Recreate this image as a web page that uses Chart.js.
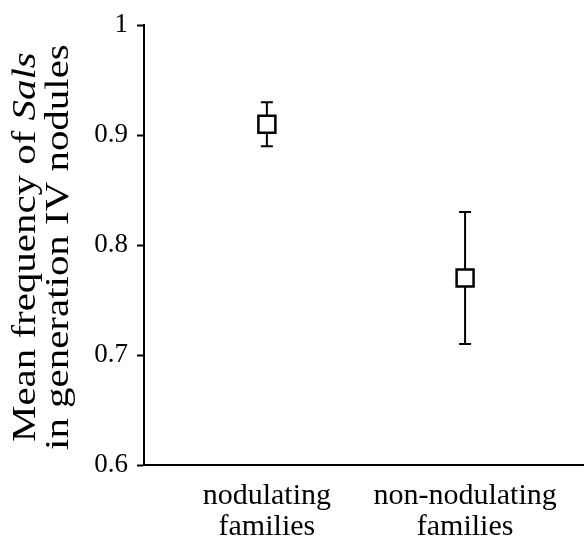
<!DOCTYPE html>
<html>
<head>
<meta charset="utf-8">
<script src="https://cdn.jsdelivr.net/npm/chart.js@4.4.1/dist/chart.umd.min.js"></script>
<style>
  html, body { margin: 0; padding: 0; background: #fff; }
  #wrap { width: 584px; height: 542px; position: relative; }
</style>
</head>
<body>
<div id="wrap"><canvas id="chart"></canvas></div>
<script>
// Data
const categories = [['nodulating', 'families'], ['non-nodulating', 'families']];
const xPositions = [1, 2];
const means = [0.91, 0.77];
const errLow = [0.89, 0.71];
const errHigh = [0.93, 0.83];
const yTicks = [0.6, 0.7, 0.8, 0.9, 1];

const SERIF = "'Liberation Serif', 'DejaVu Serif', serif";

/**
 * Error bars drawn behind the square markers
 */
const errorBars = {
  id: 'errorBars',
  beforeDatasetsDraw(chart) {
    const { ctx, scales: { x, y } } = chart;
    ctx.save();
    ctx.strokeStyle = '#000';
    ctx.lineWidth = 2;
    xPositions.forEach((xv, i) => {
      const px = x.getPixelForValue(xv);
      const top = y.getPixelForValue(errHigh[i]);
      const bot = y.getPixelForValue(errLow[i]);
      ctx.beginPath();
      ctx.moveTo(px, top);
      ctx.lineTo(px, bot);
      ctx.moveTo(px - 6, top);
      ctx.lineTo(px + 6, top);
      ctx.moveTo(px - 6, bot);
      ctx.lineTo(px + 6, bot);
      ctx.stroke();
    });
    ctx.restore();
  },
};

/**
 * Two-line rotated y title with italic "Sals"
 */
const yTitle = {
  id: 'yTitle',
  afterDraw(chart) {
    const { ctx, chartArea } = chart;
    const cy = (chartArea.top + chartArea.bottom) / 2 + 2;
    const size = 33;
    const lines = [
      { base: 35, parts: [['Mean frequency of ', false], ['Sals', true]] },
      { base: 68, parts: [['in generation IV nodules', false]] },
    ];
    ctx.save();
    ctx.fillStyle = '#000';
    ctx.textBaseline = 'alphabetic';
    ctx.textAlign = 'left';
    lines.forEach(line => {
      const widths = line.parts.map(([t, it]) => {
        ctx.font = `${it ? 'italic ' : ''}${size}px ${SERIF}`;
        return ctx.measureText(t).width;
      });
      const total = widths.reduce((a, b) => a + b, 0);
      ctx.save();
      ctx.translate(line.base, cy);
      ctx.rotate(-Math.PI / 2);
      ctx.scale(1.24, 1);
      let xo = -total / 2;
      line.parts.forEach(([t, it], k) => {
        ctx.font = `${it ? 'italic ' : ''}${size}px ${SERIF}`;
        ctx.fillText(t, xo, 0);
        xo += widths[k];
      });
      ctx.restore();
    });
    ctx.restore();
  },
};

const ctx = document.getElementById('chart').getContext('2d');

new Chart(ctx, {
  type: 'scatter',
  data: {
    datasets: [{
      data: xPositions.map((xv, i) => ({ x: xv, y: means[i] })),
      pointStyle: 'rect',
      pointRadius: 12,
      pointHoverRadius: 12,
      borderColor: '#000',
      borderWidth: 2.5,
      backgroundColor: '#fff',
      showLine: false,
    }],
  },
  options: {
    responsive: true,
    maintainAspectRatio: false,
    animation: false,
    layout: { autoPadding: false, padding: { top: 21, left: 0, right: 0, bottom: 0 } },
    plugins: {
      legend: { display: false },
      tooltip: { enabled: false },
    },
    scales: {
      x: {
        type: 'linear',
        min: 0.38,
        max: 2.6,
        afterBuildTicks: (s) => { s.ticks = xPositions.map(v => ({ value: v })); },
        afterFit: (s) => { s.height = 77; },
        ticks: {
          callback: (v, i) => categories[i],
          color: '#000',
          font: { family: SERIF, size: 30, lineHeight: 1.05 },
          padding: 15,
          maxRotation: 0,
          autoSkip: false,
        },
        grid: { display: false, drawTicks: false },
        border: { display: true, color: '#000', width: 2 },
      },
      y: {
        min: 0.6,
        max: 1,
        afterBuildTicks: (s) => { s.ticks = yTicks.map(v => ({ value: v })); },
        afterFit: (s) => { s.width = 144; },
        ticks: {
          callback: (v) => (v === 1 ? '1' : v.toFixed(1)),
          color: '#000',
          font: { family: SERIF, size: 27 },
          padding: 9,
        },
        grid: {
          drawOnChartArea: false,
          drawTicks: true,
          tickLength: 7,
          tickColor: '#000',
          tickWidth: 2,
        },
        border: { display: true, color: '#000', width: 2 },
      },
    },
  },
  plugins: [errorBars, yTitle],
});
</script>
</body>
</html>
